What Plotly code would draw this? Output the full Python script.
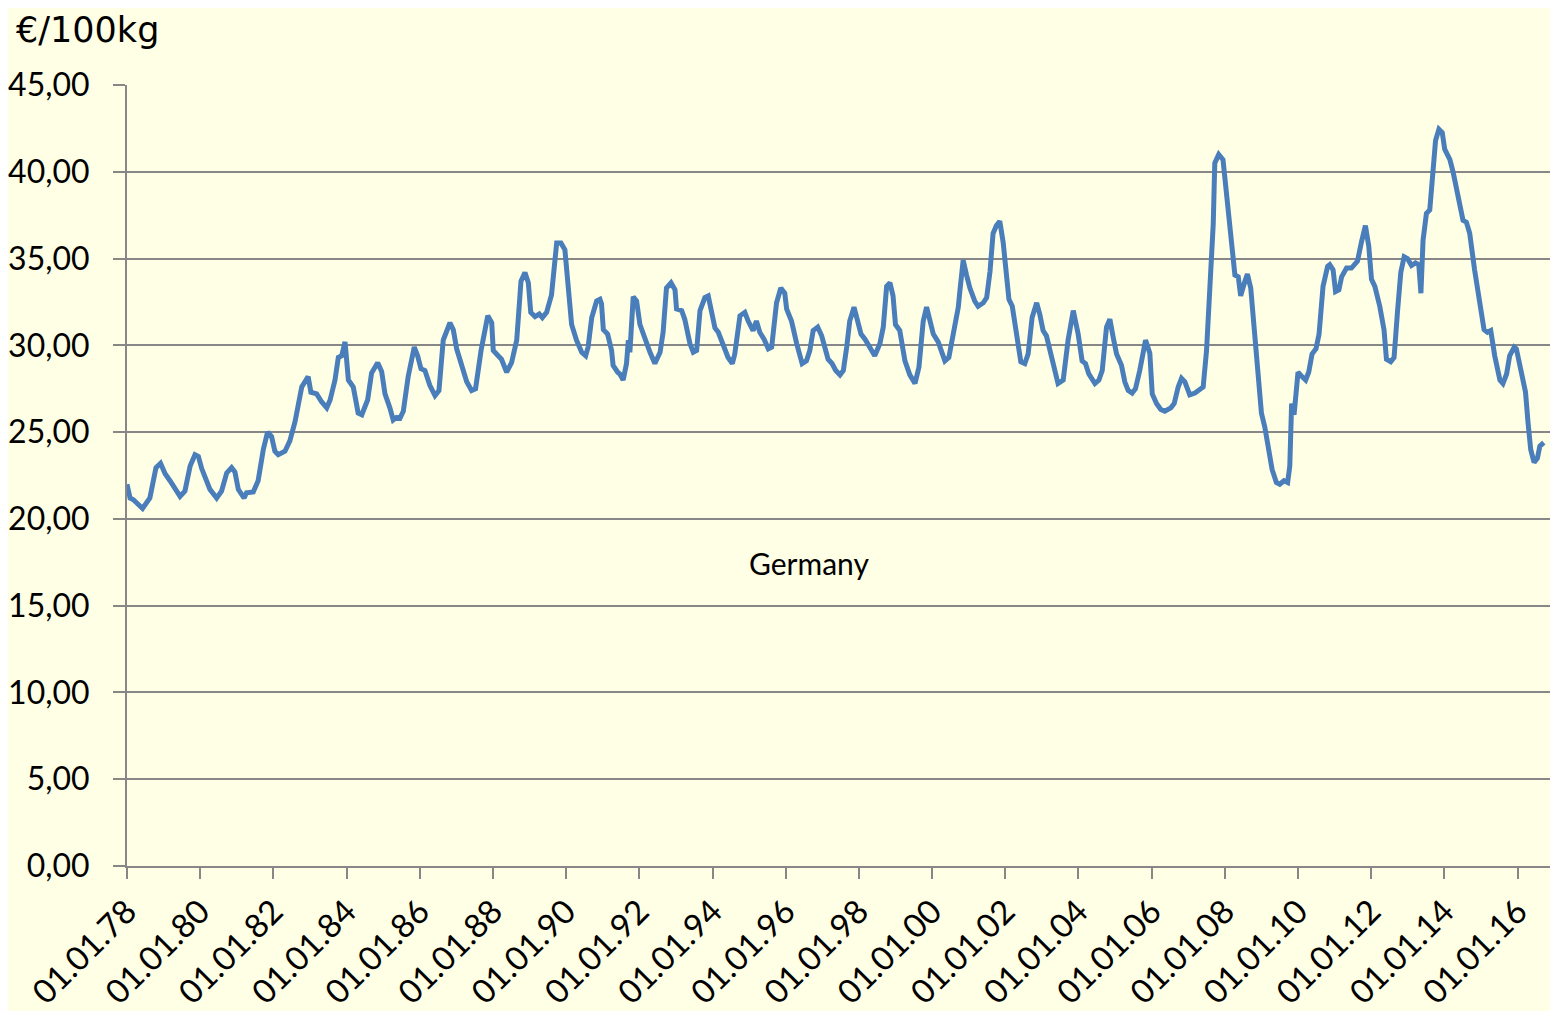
import pandas as pd
import plotly.graph_objects as go

# months since Jan 1978 and price in EUR per 100 kg
months = [
    0, 1.0, 2.1, 3.7, 5.1, 7.5, 9.5, 11.0, 12.5, 14.1, 15.7, 17.4, 19.0, 20.7, 22.3, 23.4,
    24.5, 27.2, 29.4, 31.0, 32.7, 34.3, 35.4, 36.5, 38.4, 39.2, 41.4, 43.0, 44.7, 46.1,
    47.4, 48.5, 49.6, 51.8, 53.4, 55.1, 57.3, 59.4, 60.3, 62.2, 63.8, 65.5, 66.6, 68.2,
    69.3, 70.4, 71.5, 72.6, 74.2, 75.8, 77.0, 78.9, 80.2, 82.2, 83.5, 84.6, 86.2, 87.3,
    88.4, 89.5, 90.6, 92.2, 94.2, 95.3, 96.4, 97.7, 99.3, 101.0, 102.3, 103.7, 105.9,
    107.0, 108.1, 109.7, 111.4, 113.0, 114.3, 116.1, 118.3, 119.6, 120.1, 121.7, 122.8,
    124.5, 126.1, 127.8, 129.2, 130.5, 131.6, 132.4, 133.8, 135.2, 136.2, 137.6, 139.2,
    140.9, 142.3, 143.6, 144.7, 145.8, 147.4, 149.1, 150.4, 151.2, 152.4, 154.0, 155.1,
    155.6, 156.2, 157.6, 158.9, 159.4, 160.9, 161.6, 162.7, 163.8, 164.4, 164.9, 166.0,
    167.1, 168.2, 169.8, 171.5, 173.1, 174.8, 175.8, 176.9, 178.4, 179.7, 180.2, 181.9,
    182.9, 184.6, 185.7, 186.8, 187.9, 189.5, 190.6, 191.7, 192.8, 193.9, 195.5, 197.1,
    198.5, 199.3, 201.0, 202.6, 203.7, 205.3, 206.4, 207.5, 208.9, 210.3, 211.4, 213.0,
    214.4, 215.7, 216.3, 217.9, 219.6, 221.4, 222.8, 223.9, 225.0, 226.5, 227.8, 228.9,
    229.9, 231.2, 232.4, 233.8, 234.9, 236.0, 237.0, 238.4, 239.6, 240.7, 242.0, 243.6,
    245.2, 246.9, 248.0, 249.1, 250.2, 251.2, 252.0, 253.4, 255.1, 256.7, 258.4, 259.7,
    261.1, 262.2, 263.3, 264.4, 266.0, 267.1, 268.2, 269.5, 270.9, 272.6, 273.1, 274.2,
    275.3, 276.4, 278.0, 279.1, 280.8, 281.9, 283.0, 284.0, 285.1, 286.2, 287.3, 288.4,
    289.2, 290.3, 291.7, 293.1, 294.4, 295.5, 296.8, 298.3, 299.3, 300.4, 301.5, 303.2,
    305.3, 307.0, 308.6, 310.3, 311.9, 313.2, 314.3, 315.4, 317.4, 318.7, 319.8, 321.2,
    322.3, 323.4, 324.5, 326.1, 327.2, 328.3, 329.6, 330.7, 332.1, 334.0, 335.4, 336.2,
    337.6, 339.0, 340.3, 342.3, 343.4, 344.7, 345.8, 346.9, 348.5, 350.2, 351.5, 352.9,
    354.0, 355.6, 356.2, 356.7, 358.0, 359.4, 360.6, 362.2, 363.3, 364.4, 365.2, 366.6,
    367.4, 368.5, 369.8, 372.0, 373.1, 374.2, 375.5, 376.9, 378.0, 379.4, 380.6, 381.3,
    381.9, 382.7, 384.0, 385.3, 386.5, 387.5, 388.6, 389.9, 390.9, 392.2, 393.7, 394.4,
    395.5, 396.3, 397.4, 398.3, 399.9, 401.5, 403.5, 404.8, 406.1, 407.2, 408.1, 409.2,
    410.8, 412.2, 413.0, 414.4, 415.5, 416.6, 417.7, 418.8, 419.9, 421.2, 422.5, 423.6,
    424.3, 425.0, 426.1, 427.2, 428.0, 429.1, 430.2, 431.3, 432.1, 433.8, 434.9, 436.5,
    438.1, 439.2, 440.3, 441.9, 443.6, 445.0, 446.1, 447.2, 448.5, 450.2, 451.2, 452.4,
    453.4, 454.9, 455.6, 457.3, 458.6, 459.4, 460.3, 461.4, 462.5, 463.3, 464.6,
]
price = [
    22.0, 21.2, 21.1, 20.8, 20.6, 21.2, 22.95, 23.2, 22.6, 22.2, 21.7, 21.3, 21.6, 23.05, 23.7, 23.6,
    22.9, 21.7, 21.2, 21.6, 22.65, 22.95, 22.7, 21.7, 21.2, 21.5, 21.55, 22.2, 24.0, 25.0,
    24.75, 23.9, 23.7, 23.9, 24.5, 25.6, 27.6, 28.2, 27.3, 27.2, 26.75, 26.4, 26.85, 28.0,
    29.3, 29.4, 30.2, 28.0, 27.6, 26.1, 26.0, 26.85, 28.4, 29.0, 28.5, 27.2, 26.4, 25.7,
    25.85, 25.8, 26.2, 28.2, 29.9, 29.4, 28.65, 28.55, 27.7, 27.1, 27.4, 30.3, 31.3,
    30.9, 29.8, 28.9, 27.9, 27.4, 27.5, 29.7, 31.7, 31.3, 29.7, 29.4, 29.2,
    28.45, 29.0, 30.3, 33.7, 34.2, 33.6, 31.9, 31.65, 31.8, 31.6, 31.9, 32.9,
    35.9, 35.9, 35.5, 33.1, 31.2, 30.3, 29.6, 29.4, 29.9, 31.6, 32.55, 32.65,
    32.4, 30.9, 30.65, 29.7, 28.85, 28.45, 28.35, 28.0, 28.95, 30.3, 29.6, 32.8,
    32.55, 31.2, 30.35, 29.6, 28.95, 29.6, 30.75, 33.3, 33.6, 33.2, 32.1, 32.0,
    31.5, 30.1, 29.6, 29.7, 32.0, 32.75, 32.85, 32.0, 31.0, 30.75, 30.0, 29.3,
    28.95, 29.5, 31.7, 31.9, 31.4, 30.85, 31.4, 30.75, 30.35, 29.8, 29.9, 32.45,
    33.3, 33.0, 32.1, 31.4, 30.1, 28.95, 29.1, 29.7, 30.85, 31.05, 30.55, 29.7,
    29.2, 28.95, 28.55, 28.3, 28.55, 29.9, 31.4, 32.2, 31.4, 30.65, 30.35, 29.9,
    29.4, 30.1, 31.05, 33.4, 33.6, 32.85, 31.2, 30.85, 29.1, 28.3, 27.8, 28.75,
    31.4, 32.2, 31.4, 30.65, 30.2, 29.7, 29.1, 29.3, 30.65, 32.2, 33.1, 34.9,
    34.05, 33.3, 32.55, 32.25, 32.45, 32.75, 34.25, 36.45, 36.9, 37.15, 35.95, 34.05,
    32.65, 32.25, 30.55, 29.05, 28.95, 29.5, 31.6, 32.45, 31.8, 30.85, 30.55, 29.3,
    27.8, 28.0, 30.3, 32.0, 30.65, 29.1, 28.95, 28.35, 27.8, 28.0, 28.55, 31.05,
    31.5, 30.45, 29.5, 28.85, 27.9, 27.4, 27.25, 27.5, 28.55, 30.3, 29.55, 27.2,
    26.65, 26.3, 26.2, 26.4, 26.65, 27.6, 28.1, 27.9, 27.15, 27.25, 27.4, 27.6,
    29.7, 35.2, 37.0, 40.5, 41.0, 40.7, 38.7, 35.6, 34.05, 33.95, 32.85, 33.7,
    34.1, 33.3, 30.85, 26.1, 25.3, 24.1, 22.85, 22.1, 22.0, 22.2, 22.1, 23.05,
    26.65, 26.0, 28.45, 28.2, 28.0, 28.45, 29.5, 29.8, 30.65, 33.4, 34.55, 34.65,
    34.35, 33.1, 33.2, 33.95, 34.45, 34.45, 34.85, 35.95, 36.9, 35.7, 33.8, 33.4,
    32.25, 30.9, 29.2, 29.05, 29.3, 31.9, 34.2, 35.1, 35.0, 34.6, 34.75, 34.65,
    33.0, 36.05, 37.6, 37.8, 39.9, 41.8, 42.45, 42.25, 41.3, 40.7, 39.95, 38.55,
    37.2, 37.1, 36.45, 34.35, 32.25, 30.9, 30.75, 30.85, 29.4, 28.0, 27.8, 28.35,
    29.4, 29.9, 29.8, 28.45, 27.3, 25.6, 24.0, 23.25, 23.5, 24.2, 24.4,
]

dates = pd.Timestamp("1978-01-01") + pd.to_timedelta([m * 30.4375 for m in months], unit="D")

grid = "#878787"
font_family = "Lato, 'Open Sans', sans-serif"

fig = go.Figure()
fig.add_trace(go.Scatter(
    x=dates, y=price, mode="lines",
    line=dict(color="#4A7EBB", width=5),
    hoverinfo="x+y", showlegend=False,
))

fig.update_layout(
    width=1542, height=1003,
    paper_bgcolor="#FFFFE5", plot_bgcolor="#FFFFE5",
    margin=dict(l=119, r=0, t=77, b=137),
    separators=",.",
    font=dict(family=font_family, size=32, color="#000000"),
    xaxis=dict(
        type="date",
        range=["1978-01-01", "2016-11-20"],
        tick0="1978-01-01", dtick="M24", tickformat="%d.%m.%y",
        tickangle=-45,
        ticks="outside", ticklen=11, tickcolor=grid, tickwidth=2,
        showline=True, linecolor=grid, linewidth=2,
        showgrid=False, zeroline=False,
        tickfont=dict(size=33),
    ),
    yaxis=dict(
        range=[0, 45], dtick=5, tickformat=".2f",
        ticks="outside", ticklen=12, tickcolor=grid, tickwidth=2,
        ticklabelstandoff=17,
        showline=True, linecolor=grid, linewidth=2,
        showgrid=True, gridcolor=grid, gridwidth=2,
        zeroline=False,
        tickfont=dict(size=32),
    ),
    annotations=[
        dict(text="€/100kg", xref="paper", yref="paper", x=-0.0787, y=1.043,
             xanchor="left", yanchor="bottom", showarrow=False, borderpad=0,
             font=dict(family="DejaVu Sans, sans-serif", size=35)),
        dict(text="Germany", xref="paper", yref="y", x=0.479, y=17.45,
             xanchor="center", yanchor="middle", showarrow=False,
             font=dict(size=30)),
    ],
)

fig.write_html("out.html")
